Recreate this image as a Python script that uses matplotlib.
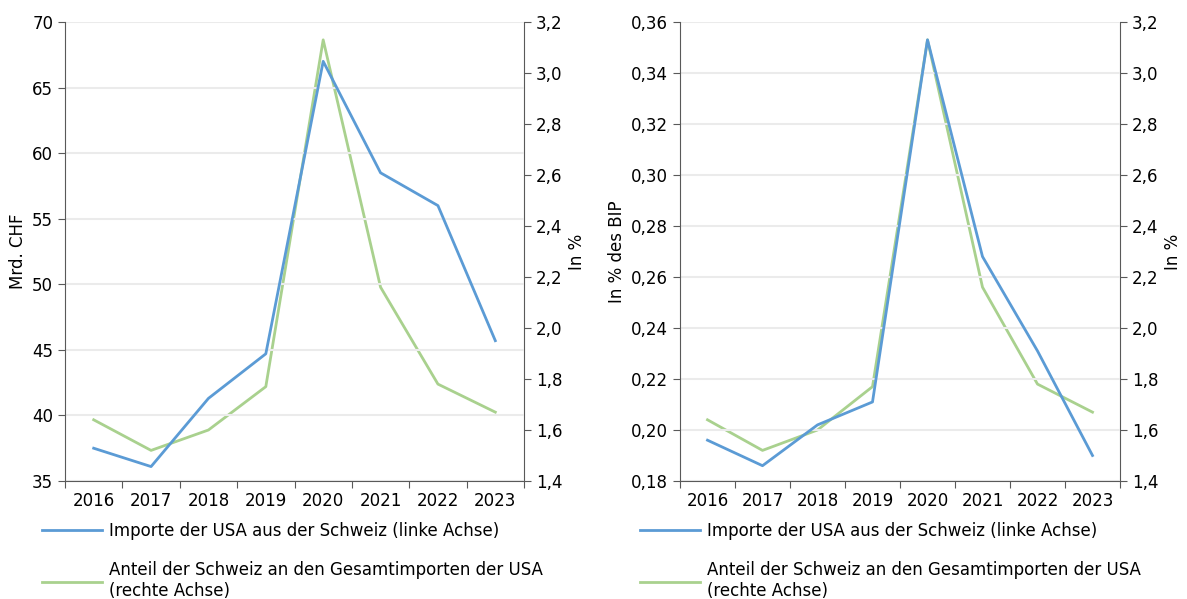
import numpy as np
import matplotlib.pyplot as plt
from matplotlib.lines import Line2D

# Daten
jahre = ['2016', '2017', '2018', '2019', '2020', '2021', '2022', '2023']
importe_mrd = [37.5, 36.1, 41.3, 44.7, 67.0, 58.5, 56.0, 45.7]
importe_bip = [0.196, 0.186, 0.202, 0.211, 0.353, 0.268, 0.231, 0.190]
anteil = [1.64, 1.52, 1.60, 1.77, 3.13, 2.16, 1.78, 1.67]

label_blau = 'Importe der USA aus der Schweiz (linke Achse)'
label_gruen = 'Anteil der Schweiz an den Gesamtimporten der USA\n(rechte Achse)'

blau = '#5b9bd5'
gruen = '#a9d18e'
grau = '#595959'
plt.rcParams['font.family'] = ['DejaVu Sans']
plt.rcParams['font.size'] = 12

fig = plt.figure(figsize=(11.87, 5.99), dpi=100)


def panel(rect, links, ylim, yticks, yfmt, ylabel, leg_x):
    ax = fig.add_axes(rect)
    x = np.arange(len(jahre))
    ax.set_xlim(-0.5, len(jahre) - 0.5)
    ax.set_ylim(*ylim)
    ax.set_yticks(yticks)
    ax.set_yticklabels([yfmt(v).replace('.', ',') for v in yticks])
    ax.grid(axis='y', color='#ebebeb', lw=1.5)
    ax.set_axisbelow(True)
    ax.set_xticks(np.arange(-0.5, len(jahre)), labels=[])
    ax.set_xticks(x, labels=jahre, minor=True)
    ax.tick_params(axis='x', which='minor', length=0, pad=8)
    ax.tick_params(axis='x', which='major', length=5, color=grau)
    ax.tick_params(axis='y', length=5, color=grau)
    for s in ['top', 'right']:
        ax.spines[s].set_visible(False)
    for s in ['left', 'bottom']:
        ax.spines[s].set_color(grau)
    ax.set_ylabel(ylabel)

    ax2 = ax.twinx()
    ax2.set_ylim(1.4, 3.2)
    t2 = np.arange(1.4, 3.21, 0.2)
    ax2.set_yticks(t2)
    ax2.set_yticklabels([f'{v:.1f}'.replace('.', ',') for v in t2])
    ax2.tick_params(axis='y', length=5, color=grau)
    for s in ['top', 'left', 'bottom']:
        ax2.spines[s].set_visible(False)
    ax2.spines['right'].set_color(grau)
    ax2.set_ylabel('In %')

    ax2.plot(x, anteil, color=gruen, lw=2.0, zorder=2)
    ax.plot(x, links, color=blau, lw=2.0, zorder=3)
    ax.set_zorder(ax2.get_zorder() + 1)
    ax.patch.set_visible(False)

    handles = [Line2D([], [], color=blau, lw=2.0), Line2D([], [], color=gruen, lw=2.0)]
    fig.legend(handles, [label_blau, label_gruen], loc='upper left',
               bbox_to_anchor=(leg_x, 0.129), frameon=False, handlelength=3.6,
               handletextpad=0.4, labelspacing=1.3, borderaxespad=0, borderpad=0)
    return ax


panel([65 / 1187, 118 / 599, 459 / 1187, 459 / 599], importe_mrd, (35, 70),
      np.arange(35, 71, 5), lambda v: f'{v:.0f}', 'Mrd. CHF', 42 / 1187)
panel([680 / 1187, 118 / 599, 440 / 1187, 459 / 599], importe_bip, (0.18, 0.36),
      np.arange(0.18, 0.3601, 0.02), lambda v: f'{v:.2f}', 'In % des BIP', 640 / 1187)

fig.savefig('out.png', dpi=100)
